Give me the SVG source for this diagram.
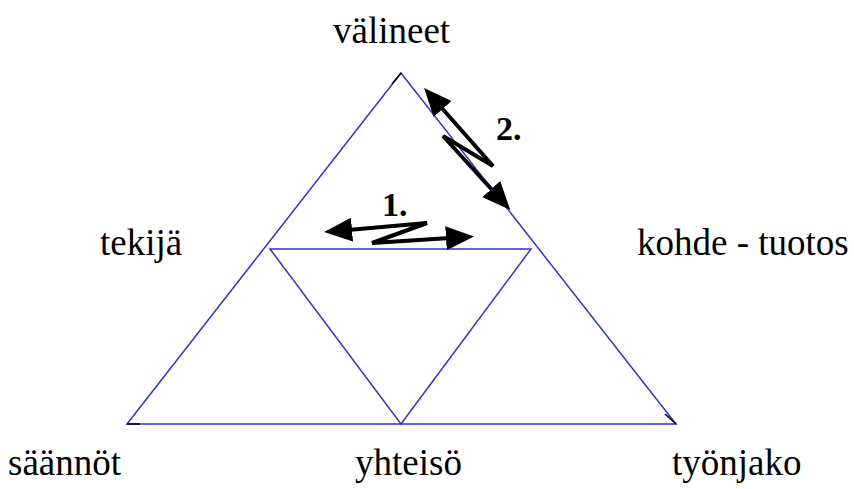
<svg xmlns="http://www.w3.org/2000/svg" width="854" height="489" viewBox="0 0 854 489">
<style>
.lbl{font-size:37px;fill:#000}
.num{font-size:34px;font-weight:bold;fill:#000}
.tri{fill:none;stroke:#3333cc;stroke-width:1.5}
.blk{fill:none;stroke:#000;stroke-width:1.5}
.arr{fill:none;stroke:#000;stroke-width:4;stroke-linejoin:miter}
</style>
<defs>
<marker id="ah" markerWidth="7" markerHeight="6" refX="1" refY="3" orient="auto-start-reverse" markerUnits="strokeWidth">
<path d="M0,0 L7,3 L0,6 Z" fill="#000"/>
</marker>
</defs>
<rect width="854" height="489" fill="#fff"/>
<g id="outer-triangle">
<path class="tri" d="M127,424 L401,73 L676,424 Z"/>
<path class="blk" d="M392,84 L401,73 M127,424 L140,424 M665,414 L676,424"/>
</g>
<g id="inner-triangle">
<path class="tri" d="M270,249 L531,249 L401,424 Z"/>
</g>
<g id="labels" font-family="Liberation Serif, Times New Roman, DejaVu Serif, serif">
<text id="valineet" class="lbl" x="333" y="43">välineet</text>
<text id="tekija" class="lbl" x="100" y="255">tekijä</text>
<text id="kohde" class="lbl" x="637" y="255">kohde - tuotos</text>
<text id="saannot" class="lbl" x="8" y="475">säännöt</text>
<text id="yhteiso" class="lbl" x="355" y="475">yhteisö</text>
<text id="tyonjako" class="lbl" x="672" y="475">työnjako</text>
<text id="n1" class="num" x="382" y="216">1.</text>
<text id="n2" class="num" x="496" y="140">2.</text>
</g>
<g id="connectors">
<polyline class="arr" points="348,230 427,223 372,243 450,238" marker-start="url(#ah)" marker-end="url(#ah)"/>
<polyline class="arr" points="440,106 493,166 443,136 494,192" marker-start="url(#ah)" marker-end="url(#ah)"/>
</g>
</svg>
